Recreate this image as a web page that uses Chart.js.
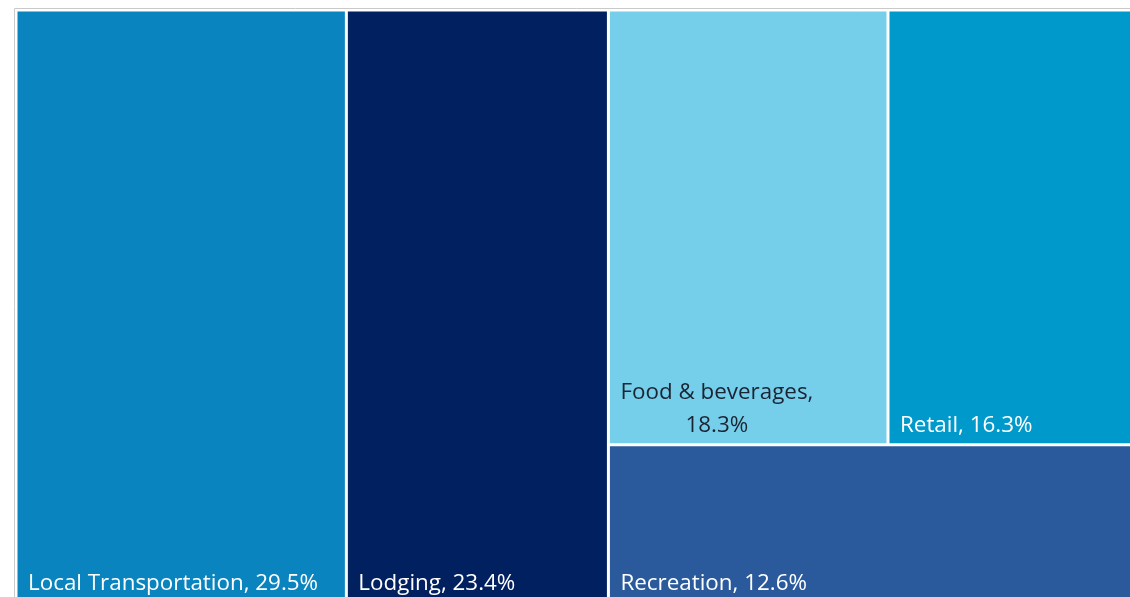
<!DOCTYPE html>
<html>
<head>
<meta charset="utf-8">
<script src="https://cdn.jsdelivr.net/npm/chart.js@4.4.1/dist/chart.umd.min.js"></script>
<style>
  html, body { margin: 0; padding: 0; background: #fff; overflow: hidden; }
  #wrap { position: relative; width: 1137px; height: 603px; }
</style>
</head>
<body>
<div id="wrap"><canvas id="chart"></canvas></div>
<script>
// spending shares (%)
const categories = ['Local Transportation', 'Lodging', 'Food & beverages', 'Retail', 'Recreation'];
const shares = [29.5, 23.4, 18.3, 16.3, 12.6];
const colours = ['#0a84be', '#002060', '#75cfeb', '#0099cc', '#2a5a9b'];
const labelColours = ['#ffffff', '#ffffff', '#1b2433', '#ffffff', '#ffffff'];
// how the boxes are nested: columns, then rows, then columns
const grouping = [[0], [1], [[2, 3], [4]]];

const total = shares.reduce((a, b) => a + b, 0);

function nodeSum(node) {
    return Array.isArray(node) ? node.reduce((s, n) => s + nodeSum(n), 0) : shares[node];
}

// slice-and-dice layout in data units (x: 0..total, y: 0..1)
function layoutNode(node, x0, x1, y0, y1, horizontal, out) {
    if (!Array.isArray(node)) {
        out[node] = { x0, x1, y0, y1 };
        return;
    }
    if (node.length === 1) {
        layoutNode(node[0], x0, x1, y0, y1, horizontal, out);
        return;
    }
    const sum = nodeSum(node);
    let pos = horizontal ? x0 : y1;
    node.forEach(child => {
        const frac = nodeSum(child) / sum;
        if (horizontal) {
            const next = pos + (x1 - x0) * frac;
            layoutNode(child, pos, next, y0, y1, !horizontal, out);
            pos = next;
        } else {
            const next = pos - (y1 - y0) * frac;
            layoutNode(child, x0, x1, next, pos, !horizontal, out);
            pos = next;
        }
    });
}

const cells = [];
layoutNode(grouping, 0, total, 0, 1, true, cells);

class TreemapController extends Chart.BarController {
    updateElements(rects, start, count, mode) {
        const xs = this._cachedMeta.xScale;
        const ys = this._cachedMeta.yScale;
        for (let i = start; i < start + count; i++) {
            const c = cells[i];
            const left = xs.getPixelForValue(c.x0);
            const right = xs.getPixelForValue(c.x1);
            const top = ys.getPixelForValue(c.y1);
            const bottom = ys.getPixelForValue(c.y0);
            this.updateElement(rects[i], i, {
                x: (left + right) / 2,
                y: top,
                base: bottom,
                width: right - left,
                height: bottom - top,
                horizontal: false,
                borderSkipped: { top: false, bottom: false, left: false, right: false },
                inflateAmount: 0,
                enableBorderRadius: false,
                options: this.resolveDataElementOptions(i, mode)
            }, mode);
        }
    }
}
TreemapController.id = 'treemapbox';
TreemapController.defaults = Object.assign({}, Chart.BarController.defaults);
TreemapController.overrides = {
    scales: {
        x: { type: 'linear' },
        y: { type: 'linear' }
    }
};
Chart.register(TreemapController);

const FONT = '22.4px "Open Sans", "Noto Sans", sans-serif';

const boxLabels = {
    id: 'boxLabels',
    afterDatasetsDraw(chart) {
        const ctx = chart.ctx;
        const area = chart.chartArea;
        // thin frame round the plot
        ctx.save();
        ctx.strokeStyle = '#c9c9c9';
        ctx.lineWidth = 1;
        ctx.beginPath();
        ctx.moveTo(area.left - 1.5, area.bottom + 5);
        ctx.lineTo(area.left - 1.5, area.top - 1.5);
        ctx.lineTo(area.right + 5, area.top - 1.5);
        ctx.stroke();

        ctx.font = FONT;
        ctx.textBaseline = 'alphabetic';
        chart.getDatasetMeta(0).data.forEach((el, i) => {
            const p = el.getProps(['x', 'y', 'base', 'width']);
            const left = p.x - p.width / 2;
            const bottom = p.base;
            const text = categories[i] + ', ' + shares[i].toFixed(1) + '%';
            ctx.fillStyle = labelColours[i];
            const padX = 12;
            const baseLine = bottom - 13;
            if (ctx.measureText(text).width > p.width * 0.9) {
                const lines = [categories[i] + ',', shares[i].toFixed(1) + '%'];
                const w = Math.max(...lines.map(l => ctx.measureText(l).width));
                const cx = left + padX + w / 2;
                ctx.textAlign = 'center';
                lines.forEach((l, k) => {
                    ctx.fillText(l, cx, baseLine - (lines.length - 1 - k) * 33);
                });
            } else {
                ctx.textAlign = 'left';
                ctx.fillText(text, left + padX, baseLine);
            }
        });
        ctx.restore();
    }
};

new Chart(document.getElementById('chart'), {
    type: 'treemapbox',
    plugins: [boxLabels],
    data: {
        labels: categories,
        datasets: [{
            data: shares,
            backgroundColor: colours,
            borderColor: '#ffffff',
            borderWidth: 1.5,
            borderSkipped: false,
            inflateAmount: 0
        }]
    },
    options: {
        responsive: true,
        maintainAspectRatio: false,
        animation: false,
        layout: { padding: { left: 16, top: 10, right: 0, bottom: 0 } },
        scales: {
            x: { type: 'linear', min: 0, max: total, display: false, offset: false },
            y: { type: 'linear', min: 0, max: 1, display: false }
        },
        plugins: {
            legend: { display: false },
            tooltip: { enabled: false }
        }
    }
});
</script>
</body>
</html>
